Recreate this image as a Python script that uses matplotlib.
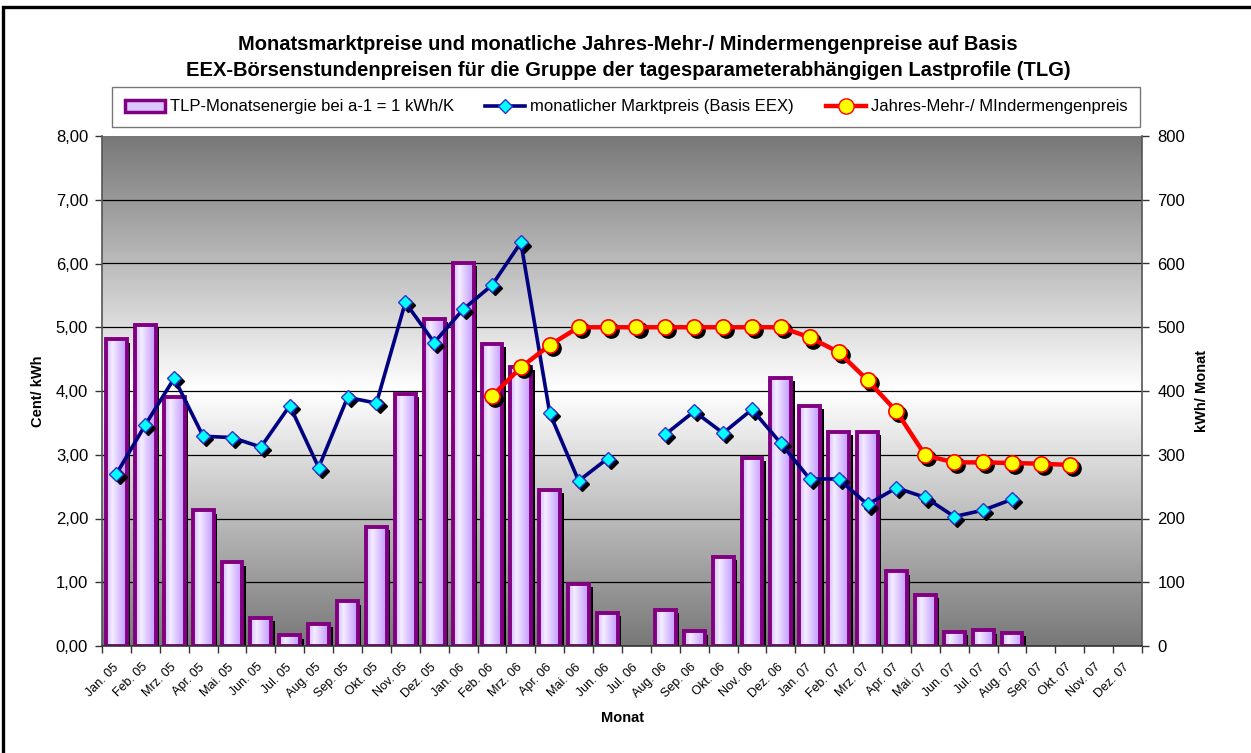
import numpy as np
import matplotlib
matplotlib.use("Agg")
import matplotlib.pyplot as plt
from matplotlib.transforms import ScaledTranslation
from matplotlib.colors import LinearSegmentedColormap
from matplotlib.lines import Line2D
from matplotlib.patches import Patch, Rectangle

plt.rcParams['font.family'] = ['Liberation Sans', 'DejaVu Sans']

# ---------------- data ----------------
months = ["Jan. 05", "Feb. 05", "Mrz. 05", "Apr. 05", "Mai. 05", "Jun. 05",
          "Jul. 05", "Aug. 05", "Sep. 05", "Okt. 05", "Nov. 05", "Dez. 05",
          "Jan. 06", "Feb. 06", "Mrz. 06", "Apr. 06", "Mai. 06", "Jun. 06",
          "Jul. 06", "Aug. 06", "Sep. 06", "Okt. 06", "Nov. 06", "Dez. 06",
          "Jan. 07", "Feb. 07", "Mrz. 07", "Apr. 07", "Mai. 07", "Jun. 07",
          "Jul. 07", "Aug. 07", "Sep. 07", "Okt. 07", "Nov. 07", "Dez. 07"]

nan = np.nan
# TLP-Monatsenergie (kWh/Monat, right axis)
energy = [481, 504, 390, 213, 131, 44, 17, 35, 70, 187, 396, 513,
          601, 474, 438, 245, 98, 52, nan, 57, 23, 140, 295, 421,
          377, 336, 336, 117, 80, 22, 25, 21, nan, nan, nan, nan]

# monatlicher Marktpreis (Cent/kWh, left axis)
market = [2.70, 3.47, 4.20, 3.29, 3.27, 3.12, 3.77, 2.80, 3.90, 3.81, 5.39, 4.76,
          5.28, 5.66, 6.33, 3.65, 2.59, 2.94, nan, 3.32, 3.68, 3.34, 3.71, 3.18,
          2.62, 2.62, 2.22, 2.48, 2.33, 2.03, 2.13, 2.30, nan, nan, nan, nan]

# Jahres-Mehr-/Mindermengenpreis (Cent/kWh, left axis)
yearly = [nan, nan, nan, nan, nan, nan, nan, nan, nan, nan, nan, nan,
          nan, 3.92, 4.37, 4.72, 5.00, 5.00, 5.00, 5.00, 5.00, 5.00, 5.00, 5.00,
          4.84, 4.61, 4.17, 3.68, 2.99, 2.88, 2.88, 2.87, 2.86, 2.84, nan, nan]

left_ticks = [0, 1, 2, 3, 4, 5, 6, 7, 8]
left_labels = ["0,00", "1,00", "2,00", "3,00", "4,00", "5,00", "6,00", "7,00", "8,00"]
right_ticks = [0, 100, 200, 300, 400, 500, 600, 700, 800]
right_labels = ["0", "100", "200", "300", "400", "500", "600", "700", "800"]

title_lines = ["Monatsmarktpreise und monatliche Jahres-Mehr-/ Mindermengenpreise auf Basis",
               "EEX-Börsenstundenpreisen für die Gruppe der tagesparameterabhängigen Lastprofile (TLG)"]
series_names = ["TLP-Monatsenergie bei a-1 = 1 kWh/K",
                "monatlicher Marktpreis (Basis EEX)",
                "Jahres-Mehr-/ MIndermengenpreis"]

# ---------------- figure ----------------
W, H = 1251, 753
fig = plt.figure(figsize=(W / 100, H / 100), dpi=100)
fig.patch.set_facecolor("white")


def fx(px):
    return px / W


def fy(py):
    return 1 - py / H


base = fig.add_axes([fx(102), fy(646), fx(1142) - fx(102), fy(136) - fy(646)])
axr = base.twinx()
base.set_zorder(axr.get_zorder() + 1)
base.patch.set_visible(False)
axr.patch.set_visible(False)

x = np.arange(len(months))

# background gradient (gray - white - gray)
t = np.linspace(0, 1, 256)
g = 0.47 + (1 - 0.47) * (1 - np.abs(t - 0.5) * 2)
axr.imshow(g[:, None], cmap='gray', vmin=0, vmax=1, extent=[0, 1, 0, 1],
           transform=axr.transAxes, aspect='auto', interpolation='bilinear', zorder=0)

# grid
axr.set_yticks(right_ticks)
axr.grid(axis='y', color='black', linewidth=0.9)
axr.set_axisbelow(True)

# bars with shadow and gradient fill
off = ScaledTranslation(2.5 / 72, -2.5 / 72, fig.dpi_scale_trans)
bw = 0.72
axr.bar(x, energy, width=bw, color='black', transform=axr.transData + off, zorder=2)
bars = axr.bar(x, energy, width=bw, facecolor='none', edgecolor='#800080',
               linewidth=2.8, zorder=4)
bar_cmap = LinearSegmentedColormap.from_list(
    "barg", [(0, '#d2b4ff'), (0.3, '#f4edff'), (1, '#c296ff')])
hgrad = np.linspace(0, 1, 64)[None, :]
for b in bars:
    h = b.get_height()
    if not np.isfinite(h):
        continue
    x0 = b.get_x()
    axr.imshow(hgrad, cmap=bar_cmap, extent=[x0, x0 + b.get_width(), 0, h],
               aspect='auto', interpolation='bilinear', zorder=3)

# lines with marker shadows
loff = base.transData + ScaledTranslation(2.2 / 72, -2.2 / 72, fig.dpi_scale_trans)
base.plot(x, market, ls='none', marker='D', ms=7, color='black', transform=loff, zorder=2)
base.plot(x, market, color='#000080', lw=2.6, marker='D', ms=7, mfc='#00ffff',
          mec='#3333cc', mew=1.0, zorder=3)
base.plot(x, yearly, ls='none', marker='o', ms=11, color='black', transform=loff, zorder=4)
base.plot(x, yearly, color='#ff0000', lw=3.2, marker='o', ms=11, mfc='#ffff00',
          mec='#ff0000', mew=1.2, zorder=5)

# limits
base.set_xlim(-0.5, len(months) - 0.5)
axr.set_xlim(-0.5, len(months) - 0.5)
base.set_ylim(0, 8)
axr.set_ylim(0, 800)
axr.get_ygridlines()[-1].set_visible(False)

# axes styling
for sp in ['top']:
    base.spines[sp].set_visible(False)
    axr.spines[sp].set_visible(False)
base.spines['right'].set_visible(False)
axr.spines['left'].set_visible(False)
axr.spines['bottom'].set_visible(False)
base.spines['left'].set_color('#555555')
base.spines['bottom'].set_color('#333333')
axr.spines['right'].set_color('#555555')
base.spines['left'].set_linewidth(1.2)
base.spines['bottom'].set_linewidth(1.2)
axr.spines['right'].set_linewidth(1.2)

base.set_yticks(left_ticks)
base.set_yticklabels(left_labels)
base.tick_params(axis='y', direction='out', length=5, width=1, labelsize=12, pad=5,
                 color='#333333')
axr.set_yticklabels(right_labels)
axr.tick_params(axis='y', direction='out', length=5, width=1, labelsize=12, pad=6,
                color='#333333')

base.set_xticks(np.arange(len(months) + 1) - 0.5)
base.set_xticklabels([])
base.set_xticks(x, minor=True)
base.set_xticklabels(months, minor=True, rotation=45, ha='right', va='center',
                     rotation_mode='anchor', fontsize=9)
base.tick_params(axis='x', which='major', direction='out', length=5, width=1,
                 color='#333333')
base.tick_params(axis='x', which='minor', length=0, pad=14)

# texts
fig.text(fx(628), fy(45), title_lines[0], ha='center', va='center',
         fontsize=14.5, fontweight='bold')
fig.text(fx(628), fy(71), title_lines[1], ha='center', va='center',
         fontsize=14.5, fontweight='bold')
fig.text(fx(38), fy(391), "Cent/ kWh", rotation=90, ha='center', va='center',
         fontsize=10.5, fontweight='bold')
fig.text(fx(1202), fy(391), "kWh/ Monat", rotation=90, ha='center', va='center',
         fontsize=10.5, fontweight='bold')
fig.text(fx(622), fy(718), "Monat", ha='center', va='center',
         fontsize=10.5, fontweight='bold')

# legend
handles = [Patch(facecolor='#dcc6ff', edgecolor='#800080', linewidth=2.5),
           Line2D([], [], color='#000080', lw=2.6, marker='D', ms=7, mfc='#00ffff',
                  mec='#3333cc'),
           Line2D([], [], color='#ff0000', lw=3.2, marker='o', ms=11, mfc='#ffff00',
                  mec='#ff0000')]
leg = fig.legend(handles, series_names, loc='center', mode='expand', ncol=3,
                 bbox_to_anchor=(fx(112), fy(126), fx(1140) - fx(112), fy(88) - fy(126)),
                 fontsize=12, frameon=True, fancybox=False, edgecolor='#555555',
                 handlelength=2.4, handletextpad=0.3, borderaxespad=0, borderpad=0.75)
leg.get_frame().set_linewidth(1.0)

# outer border
fig.add_artist(Rectangle((fx(3), -0.1), 1.2, fy(7) + 0.1, transform=fig.transFigure,
                         fill=False, edgecolor='black', linewidth=2.4))

fig.savefig("out.png", dpi=100)
